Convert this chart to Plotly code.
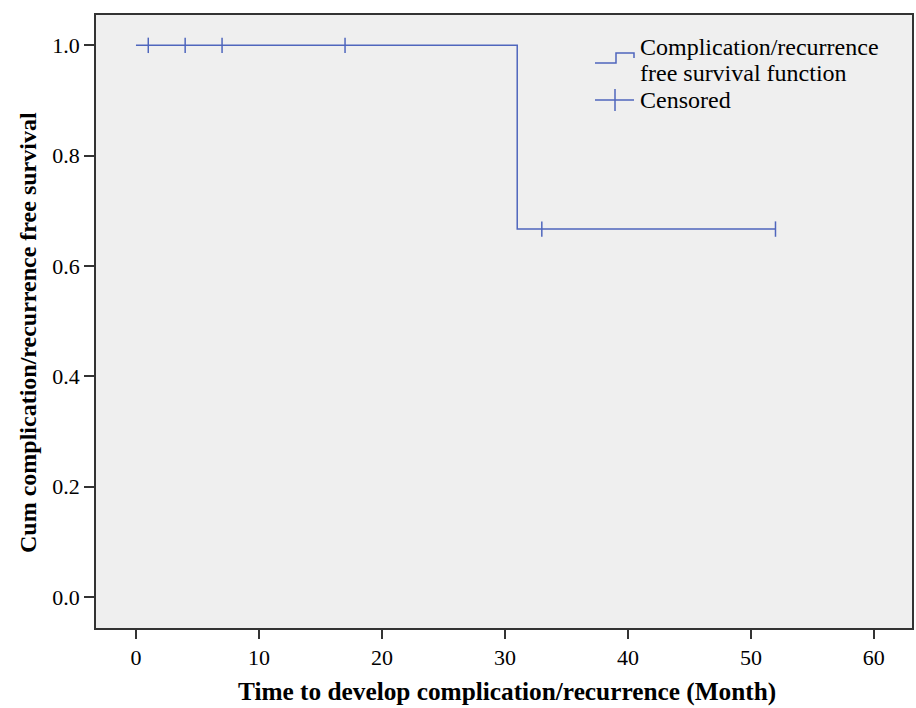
import plotly.graph_objects as go

# Data
step_time = [0, 31, 52]
step_surv = [1.0, 0.667, 0.667]
censor_time = [1, 4, 7, 17, 33, 52]
censor_surv = [1.0, 1.0, 1.0, 1.0, 0.667, 0.667]
x_ticks = [0, 10, 20, 30, 40, 50, 60]
y_ticks = [0.0, 0.2, 0.4, 0.6, 0.8, 1.0]

LINE = "#4f66bd"
W, H = 916, 708
L, R, T, B = 96, 4, 15, 80
PW, PH = W - L - R, H - T - B

def px(p):
    return (p - L) / PW

def py(q):
    return (H - B - q) / PH

fig = go.Figure()
fig.add_trace(go.Scatter(x=step_time, y=step_surv, mode="lines", line_shape="hv",
                         line=dict(color=LINE, width=1.5), showlegend=False))
fig.add_trace(go.Scatter(x=censor_time, y=censor_surv, mode="markers",
                         marker=dict(symbol="line-ns-open", size=11, color=LINE,
                                     line=dict(color=LINE, width=1.5)),
                         showlegend=False))

# Custom legend glyphs
shapes = [
    dict(type="path", xref="paper", yref="paper",
         path=f"M {px(595)} {py(63)} L {px(616)} {py(63)} L {px(616)} {py(53)} L {px(634)} {py(53)} L {px(634)} {py(58)}",
         line=dict(color=LINE, width=1.5)),
    dict(type="line", xref="paper", yref="paper", x0=px(595), x1=px(634), y0=py(100), y1=py(100),
         line=dict(color=LINE, width=1.5)),
    dict(type="line", xref="paper", yref="paper", x0=px(615), x1=px(615), y0=py(89), y1=py(111),
         line=dict(color=LINE, width=1.5)),
]
legend_font = dict(family="Liberation Serif", size=24, color="black")
annotations = [
    dict(text="Complication/recurrence", xref="paper", yref="paper",
         x=px(638), y=py(47), xanchor="left", yanchor="middle", showarrow=False, font=legend_font),
    dict(text="free survival function", xref="paper", yref="paper",
         x=px(638), y=py(73), xanchor="left", yanchor="middle", showarrow=False, font=legend_font),
    dict(text="Censored", xref="paper", yref="paper", x=px(638), y=py(100),
         xanchor="left", yanchor="middle", showarrow=False, font=legend_font),
    dict(text="<b>Time to develop complication/recurrence (Month)</b>", xref="paper", yref="paper",
         x=px(507), y=py(691), xanchor="center", yanchor="middle", showarrow=False,
         font=dict(family="Liberation Serif", size=25.3, color="black")),
    dict(text="<b>Cum complication/recurrence free survival</b>", xref="paper", yref="paper",
         x=px(28), y=py(333), xanchor="center", yanchor="middle", showarrow=False,
         textangle=-90, font=dict(family="Liberation Serif", size=24, color="black")),
]

fig.update_layout(
    width=W, height=H,
    margin=dict(l=L, r=R, t=T, b=B, autoexpand=False),
    paper_bgcolor="white", plot_bgcolor="#efefef",
    shapes=shapes, annotations=annotations,
    showlegend=False,
)
fig.update_xaxes(range=[-3.25, 63.1], tickvals=x_ticks, ticktext=[str(v) for v in x_ticks],
                 automargin=False,
                 showgrid=False, zeroline=False, showline=True, linecolor="#333", linewidth=1.5,
                 mirror=True, ticks="outside", ticklen=9, tickwidth=1.5, tickcolor="#333",
                 tickfont=dict(family="Liberation Serif", size=22, color="black"))
fig.update_yaxes(range=[-0.056, 1.055], tickvals=y_ticks, ticktext=[f"{v:.1f}" for v in y_ticks],
                 automargin=False,
                 showgrid=False, zeroline=False, showline=True, linecolor="#333", linewidth=1.5,
                 mirror=True, ticks="outside", ticklen=10, tickwidth=1.5, tickcolor="#333",
                 tickfont=dict(family="Liberation Serif", size=22, color="black"))

fig.write_html("out.html", config={"displayModeBar": False},
               post_script="document.body.style.margin='0';")
